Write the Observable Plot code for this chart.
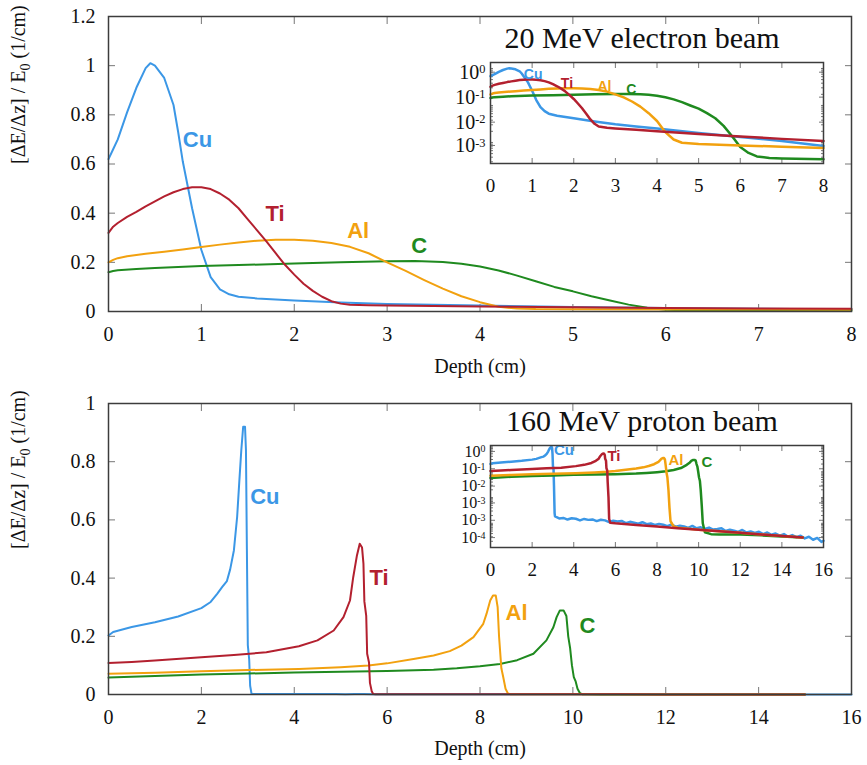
<!DOCTYPE html>
<html><head><meta charset="utf-8">
<script src="https://cdn.jsdelivr.net/npm/d3@7"></script>
<script src="https://cdn.jsdelivr.net/npm/@observablehq/plot@0.6"></script>
<style>
body{margin:0;background:#fff}
#page{position:relative;width:867px;height:765px;overflow:hidden;background:#fff}
#page svg{position:absolute}
</style></head><body><div id="page"></div><script>
// ---------- data ----------
const materials = ["Cu", "Ti", "Al", "C"];

// 20 MeV electron beam: [depth (cm), dE/dz / E0 (1/cm)]
const electronCu = [[0,0.62],[0.05,0.66],[0.1,0.7],[0.2,0.81],[0.3,0.91],[0.4,0.99],[0.45,1.01],[0.5,1.0],[0.6,0.95],[0.7,0.84],[0.75,0.73],[0.8,0.61],[0.9,0.42],[1.0,0.25],[1.1,0.14],[1.2,0.09],[1.3,0.07],[1.4,0.06],[1.6,0.053],[2.0,0.045],[2.5,0.037],[3.0,0.031],[3.5,0.027],[4.0,0.024],[5.0,0.018],[6.0,0.014],[7.0,0.011],[8.0,0.008]];
const electronTi = [[0,0.32],[0.05,0.345],[0.1,0.36],[0.2,0.385],[0.3,0.405],[0.4,0.428],[0.5,0.448],[0.6,0.468],[0.7,0.485],[0.8,0.498],[0.9,0.505],[1.0,0.505],[1.1,0.498],[1.2,0.48],[1.3,0.455],[1.4,0.42],[1.5,0.375],[1.6,0.33],[1.7,0.285],[1.8,0.237],[1.9,0.19],[2.0,0.15],[2.1,0.113],[2.2,0.084],[2.3,0.06],[2.4,0.042],[2.5,0.032],[2.6,0.027],[2.8,0.025],[3.0,0.024],[3.5,0.022],[4.0,0.02],[5.0,0.017],[6.0,0.0145],[7.0,0.0125],[8.0,0.011]];
const electronAl = [[0,0.2],[0.05,0.21],[0.1,0.217],[0.2,0.225],[0.4,0.235],[0.6,0.243],[0.8,0.252],[1.0,0.262],[1.2,0.272],[1.4,0.281],[1.6,0.288],[1.8,0.292],[2.0,0.292],[2.2,0.288],[2.4,0.279],[2.6,0.263],[2.8,0.237],[3.0,0.2],[3.2,0.165],[3.4,0.128],[3.6,0.093],[3.8,0.062],[4.0,0.038],[4.2,0.019],[4.4,0.012],[4.6,0.0098],[5.0,0.0091],[6.0,0.0083],[7.0,0.0077],[8.0,0.0071]];
const electronC = [[0,0.16],[0.05,0.165],[0.1,0.168],[0.3,0.173],[0.5,0.177],[1.0,0.185],[1.5,0.19],[2.0,0.195],[2.5,0.2],[3.0,0.204],[3.3,0.205],[3.6,0.201],[3.8,0.194],[4.0,0.183],[4.2,0.167],[4.4,0.146],[4.6,0.123],[4.8,0.1],[5.0,0.082],[5.2,0.062],[5.4,0.045],[5.6,0.028],[5.8,0.015],[6.0,0.0075],[6.2,0.0052],[6.4,0.0042],[6.7,0.0038],[7.0,0.0037],[8.0,0.0035]];

// 160 MeV proton beam
const protonCu = [[0,0.203],[0.1,0.215],[0.5,0.232],[1.0,0.248],[1.5,0.268],[2.0,0.297],[2.2,0.318],[2.34,0.346],[2.45,0.37],[2.55,0.39],[2.62,0.43],[2.7,0.495],[2.77,0.61],[2.82,0.74],[2.86,0.84],[2.9,0.92],[2.94,0.92],[2.96,0.84],[2.98,0.5],[3.0,0.17],[3.03,0.12],[3.05,0.03],[3.08,0.0025],
  [3.1,1.85e-3],[3.3,1.55e-3],[3.5,1.62e-3],[3.7,1.4e-3],[3.9,1.58e-3],[4.1,1.5e-3],[4.3,1.3e-3],[4.5,1.48e-3],[4.7,1.36e-3],[4.9,1.42e-3],[5.1,1.22e-3],[5.3,1.38e-3],[5.5,1.3e-3],[5.7,1.12e-3],[5.9,1.25e-3],[6.1,1.18e-3],[6.3,1.24e-3],[6.5,1.02e-3],[6.7,1.14e-3],[6.9,1.06e-3],[7.1,0.96e-3],[7.3,1.1e-3],[7.5,0.92e-3],[7.7,0.98e-3],[7.9,0.86e-3],[8.1,0.95e-3],[8.3,0.88e-3],[8.5,0.78e-3],[8.7,0.9e-3],[8.9,0.74e-3],[9.1,0.8e-3],[9.3,0.76e-3],[9.5,0.66e-3],[9.7,0.79e-3],[9.9,0.64e-3],[10.1,0.7e-3],[10.3,0.6e-3],[10.5,0.68e-3],[10.7,0.57e-3],[10.9,0.6e-3],[11.1,0.64e-3],[11.3,0.5e-3],[11.5,0.56e-3],[11.7,0.52e-3],[11.9,0.46e-3],[12.1,0.55e-3],[12.3,0.44e-3],[12.5,0.48e-3],[12.7,0.42e-3],[12.9,0.47e-3],[13.1,0.38e-3],[13.3,0.44e-3],[13.5,0.36e-3],[13.7,0.4e-3],[13.9,0.33e-3],[14.1,0.38e-3],[14.3,0.3e-3],[14.5,0.35e-3],[14.7,0.29e-3],[14.9,0.33e-3],[15.1,0.26e-3],[15.3,0.3e-3],[15.5,0.23e-3],[15.7,0.27e-3],[15.9,0.19e-3],[16.0,0.21e-3]];
const protonTi = [[0,0.108],[0.5,0.112],[1.0,0.117],[2.0,0.128],[2.7,0.136],[3.4,0.145],[4.1,0.166],[4.5,0.186],[4.85,0.22],[5.06,0.266],[5.2,0.323],[5.27,0.403],[5.35,0.478],[5.41,0.518],[5.46,0.505],[5.49,0.45],[5.51,0.32],[5.55,0.27],[5.57,0.14],[5.61,0.11],[5.63,0.04],[5.67,0.01],[5.7,0.0015],[5.75,1.05e-3],[6,1.0e-3],[7,0.86e-3],[8,0.75e-3],[9,0.64e-3],[10,0.56e-3],[11,0.49e-3],[12,0.43e-3],[13,0.37e-3],[14,0.32e-3],[15,0.28e-3]];
const protonAl = [[0,0.071],[1,0.075],[2,0.08],[3,0.084],[4.1,0.088],[5,0.094],[5.6,0.1],[6,0.107],[6.6,0.123],[7,0.134],[7.35,0.149],[7.6,0.168],[7.86,0.197],[8.07,0.243],[8.14,0.277],[8.22,0.323],[8.28,0.34],[8.34,0.34],[8.38,0.3],[8.41,0.2],[8.46,0.09],[8.5,0.06],[8.55,0.02],[8.6,0.004],[8.65,0.0012],[8.8,0.76e-3],[9,0.68e-3],[10,0.56e-3],[11,0.49e-3],[12,0.43e-3],[13,0.37e-3],[14,0.32e-3],[15,0.28e-3]];
const protonC = [[0,0.058],[1,0.064],[2,0.069],[3,0.072],[4,0.076],[5,0.078],[6,0.081],[7,0.085],[7.5,0.09],[8,0.097],[8.43,0.105],[8.8,0.118],[9.15,0.14],[9.43,0.186],[9.58,0.231],[9.65,0.266],[9.72,0.289],[9.8,0.289],[9.86,0.27],[9.9,0.2],[9.94,0.16],[9.98,0.1],[10.02,0.06],[10.06,0.045],[10.1,0.02],[10.15,0.005],[10.2,0.001],[10.3,0.45e-3],[10.6,0.38e-3],[11,0.37e-3],[12,0.37e-3],[13,0.34e-3],[14,0.31e-3],[15,0.28e-3]];

// curve label anchors (depth, value)
const electronLabelDepth = [0.8, 1.69, 2.57, 3.26];
const electronLabelValue = [0.696, 0.397, 0.327, 0.268];
const protonLabelDepth = [3.05, 5.62, 8.55, 10.14];
const protonLabelValue = [0.68, 0.40, 0.28, 0.235];

// ticks
const electronXTicks = [0,1,2,3,4,5,6,7,8];
const electronYTicks = [0,0.2,0.4,0.6,0.8,1,1.2];
const protonXTicks = [0,2,4,6,8,10,12,14,16];
const protonYTicks = [0,0.2,0.4,0.6,0.8,1];
// inset log-axis tick positions and their printed labels (as in the figure)
const electronInsetYTicks = [0.794, 0.168, 0.0354, 0.0083];
const electronInsetYLabels = ["10^0","10^-1","10^-2","10^-3"];
const protonInsetYTicks = [0.618, 0.131, 0.0279, 0.00618, 0.00131, 0.000279];
const protonInsetYLabels = ["10^0","10^-1","10^-2","10^-3","10^-3","10^-4"];

const titles = ["20 MeV electron beam", "160 MeV proton beam"];
const xLabel = "Depth (cm)";
const yLabel = "[ΔE/Δz] / E0 (1/cm)";

// ---------- styling ----------
const colors = {Cu: "#3b97e6", Ti: "#b3202f", Al: "#f2a10f", C: "#1f8a1f"};
const drawOrder = ["Cu", "C", "Al", "Ti"];
const serif = "Liberation Serif";
const sans = "Liberation Sans";
const page = document.getElementById("page");

function lineMarks(set, sw) {
  return drawOrder.map(m => Plot.line(set[m], {x: d => d[0], y: d => d[1], stroke: colors[m], strokeWidth: sw, strokeLinejoin: "round"}));
}
function labelMarks(depths, values, size) {
  return materials.map((m, i) => Plot.text([m], {x: () => depths[i], y: () => values[i], text: d => d, fill: colors[m],
    fontFamily: sans, fontWeight: "bold", fontSize: size, textAnchor: "start", lineAnchor: "middle"}));
}
function tickAxes(xt, yt, tick) {
  const c = {stroke: "#777", fill: "none", label: null, tickFormat: () => ""};
  return [
    Plot.axisX({...c, anchor: "bottom", ticks: xt, tickSize: -tick}),
    Plot.axisX({...c, anchor: "top", ticks: xt, tickSize: -tick}),
    Plot.axisY({...c, anchor: "left", ticks: yt, tickSize: -tick}),
    Plot.axisY({...c, anchor: "right", ticks: yt, tickSize: -tick}),
  ];
}
function xTickLabels(xt, size, gap) {
  return Plot.text(xt, {x: d => d, frameAnchor: "bottom", dy: gap, lineAnchor: "top", text: d => String(d),
    fontFamily: serif, fontSize: size, fill: "#111"});
}
function yTickLabels(yt, fmt, size, gap) {
  return Plot.text(yt, {y: d => d, frameAnchor: "left", dx: -gap, textAnchor: "end", lineAnchor: "middle", text: fmt,
    fontFamily: serif, fontSize: size, fill: "#111"});
}

function mainPanel({set, xDomain, yDomain, xt, yt, lblD, lblV, top, height, mt, mb, xlabDy}) {
  const svg = Plot.plot({
    width: 867, height, marginLeft: 108, marginRight: 16, marginTop: mt, marginBottom: mb,
    style: {fontFamily: serif, fontSize: "20px", background: "transparent", overflow: "visible", color: "#111"},
    x: {domain: xDomain}, y: {domain: yDomain},
    marks: [
      ...tickAxes(xt, yt, 7),
      xTickLabels(xt, 20, 15),
      yTickLabels(yt, d => String(d), 20, 13),
      ...lineMarks(set, 2),
      ...labelMarks(lblD, lblV, 22),
      Plot.text([xLabel], {frameAnchor: "bottom", dy: xlabDy, text: d => d, fontFamily: serif, fontSize: 20, lineAnchor: "middle"}),
      Plot.text([yLabel], {frameAnchor: "left", dx: -90, rotate: -90, text: d => d, fontFamily: serif, fontSize: 20, lineAnchor: "middle"}),
      Plot.frame({stroke: "#3c3c3c", strokeWidth: 1.5})
    ]
  });
  svg.style.left = "0px"; svg.style.top = top + "px";
  svg.querySelectorAll("text").forEach(el => {
    if (el.textContent === yLabel) {
      el.innerHTML = '[ΔE/Δz] / E<tspan dy="5" font-size="14">0</tspan><tspan dy="-5"> (1/cm)</tspan>';
    }
  });
  page.appendChild(svg);
}

function insetPanel({set, xDomain, yDomain, xt, yt, ylabels, lblD, lblV, title, top, mt, mb, ySize, lblSize}) {
  const lab = new Map(yt.map((v, i) => [v, ylabels[i]]));
  const c = {stroke: "#777", fill: "none", label: null, tickFormat: () => ""};
  const svg = Plot.plot({
    width: 440, height: 215, marginLeft: 90, marginRight: 17, marginTop: mt, marginBottom: mb,
    style: {fontFamily: serif, fontSize: "19px", background: "transparent", overflow: "visible", color: "#111"},
    x: {domain: xDomain}, y: {type: "log", domain: yDomain},
    marks: [
      ...tickAxes(xt, yt, 5),
      Plot.axisY({...c, anchor: "left", ticks: 40, tickSize: -3}),
      Plot.axisY({...c, anchor: "right", ticks: 40, tickSize: -3}),
      xTickLabels(xt, 19, 15),
      yTickLabels(yt, d => lab.get(d), ySize, 5),
      ...lineMarks(set, 2.5),
      ...labelMarks(lblD, lblV, lblSize),
      Plot.text([title], {frameAnchor: "top", dx: -15, dy: -24.5, text: d => d, fontFamily: serif, fontSize: 30, lineAnchor: "middle"}),
      Plot.frame({stroke: "#3c3c3c", strokeWidth: 1.5})
    ]
  });
  svg.style.left = "400px"; svg.style.top = top + "px";
  svg.querySelectorAll("text").forEach(el => {
    const m = /^10\^(.+)$/.exec(el.textContent);
    if (m) el.innerHTML = `10<tspan dy="-0.42em" font-size="0.62em">${m[1]}</tspan>`;
  });
  page.appendChild(svg);
}

const electronSet = {Cu: electronCu, Ti: electronTi, Al: electronAl, C: electronC};
const protonSet = {Cu: protonCu, Ti: protonTi, Al: protonAl, C: protonC};

mainPanel({set: electronSet, xDomain: [0, 8], yDomain: [0, 1.2], xt: electronXTicks, yt: electronYTicks,
  lblD: electronLabelDepth, lblV: electronLabelValue, top: 0, height: 380, mt: 16, mb: 69, xlabDy: 55});
mainPanel({set: protonSet, xDomain: [0, 16], yDomain: [0, 1], xt: protonXTicks, yt: protonYTicks,
  lblD: protonLabelDepth, lblV: protonLabelValue, top: 385, height: 380, mt: 18, mb: 71, xlabDy: 54});
insetPanel({set: electronSet, xDomain: [0, 8], yDomain: [0.0027, 1.45], xt: electronXTicks, yt: electronInsetYTicks,
  ylabels: electronInsetYLabels, lblD: electronLabelDepth, lblV: electronLabelValue, title: titles[0], top: 0, mt: 62, mb: 52, ySize: 20, lblSize: 14});
insetPanel({set: protonSet, xDomain: [0, 16], yDomain: [1.15e-4, 1.05], xt: protonXTicks, yt: protonInsetYTicks,
  ylabels: protonInsetYLabels, lblD: protonLabelDepth, lblV: protonLabelValue, title: titles[1], top: 380, mt: 65, mb: 48, ySize: 16, lblSize: 15});
</script></body></html>
